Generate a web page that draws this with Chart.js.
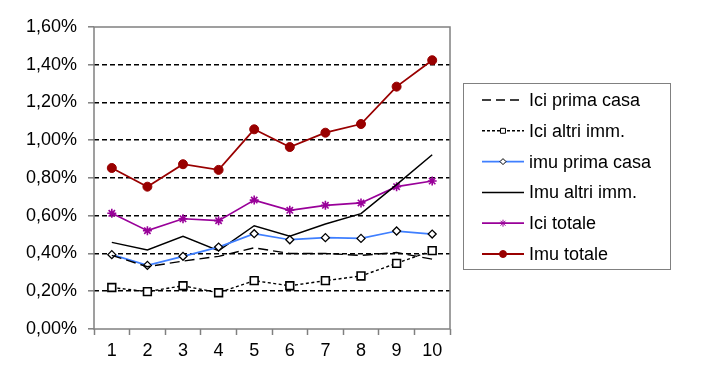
<html lang="en">
<head>
    <meta charset="UTF-8">
    <title>Ici / Imu</title>
    <style>
        body { margin: 0; background: #fff; }
        #wrap { width: 718px; height: 383px; }
    </style>
</head>
<body>
    <div id="wrap"><canvas id="canvas"></canvas></div>
    <script src="https://cdn.jsdelivr.net/npm/chart.js@4/dist/chart.umd.min.js"></script>
    <script>
        // values (percent)
        var categories = ['1', '2', '3', '4', '5', '6', '7', '8', '9', '10'];
        var iciPrimaCasa = [0.39, 0.33, 0.36, 0.385, 0.43, 0.40, 0.40, 0.39, 0.405, 0.37];
        var iciAltriImm = [0.22, 0.198, 0.229, 0.192, 0.256, 0.229, 0.256, 0.281, 0.348, 0.415];
        var imuPrimaCasa = [0.394, 0.337, 0.385, 0.434, 0.505, 0.473, 0.484, 0.48, 0.519, 0.503];
        var imuAltriImm = [0.459, 0.419, 0.491, 0.415, 0.547, 0.491, 0.556, 0.611, 0.765, 0.923];
        var iciTotale = [0.613, 0.521, 0.584, 0.574, 0.683, 0.629, 0.655, 0.668, 0.754, 0.784];
        var imuTotale = [0.853, 0.754, 0.873, 0.843, 1.058, 0.964, 1.04, 1.086, 1.284, 1.424];
        var yTicks = [0, 0.2, 0.4, 0.6, 0.8, 1.0, 1.2, 1.4, 1.6];

        var font = 'Liberation Sans, Arial, sans-serif';

        // plot frame
        var frame = {
            id: 'frame',
            afterDraw: function (chart) {
                var a = chart.chartArea, ctx = chart.ctx;
                ctx.save();
                ctx.strokeStyle = '#808080';
                ctx.lineWidth = 1.5;
                ctx.strokeRect(a.left, a.top, a.right - a.left, a.bottom - a.top);
                ctx.restore();
            }
        };

        // boxed legend on the right
        var boxLegend = {
            id: 'boxLegend',
            afterDraw: function (chart) {
                var ctx = chart.ctx;
                var x0 = 463, y0 = 83, w = 207, h = 186;
                ctx.save();
                ctx.strokeStyle = '#808080';
                ctx.lineWidth = 1;
                ctx.strokeRect(x0 + 0.5, y0 + 0.5, w, h);
                ctx.font = '18px ' + font;
                ctx.textBaseline = 'middle';
                chart.data.datasets.forEach(function (ds, i) {
                    var y = 100 + i * 30.8;
                    ctx.strokeStyle = ds.borderColor;
                    ctx.lineWidth = ds.borderWidth;
                    ctx.setLineDash(ds.legendDash || []);
                    ctx.beginPath();
                    ctx.moveTo(482, y);
                    ctx.lineTo(524, y);
                    ctx.stroke();
                    ctx.setLineDash([]);
                    if (ds.pointRadius > 0) {
                        ctx.fillStyle = ds.pointBackgroundColor;
                        ctx.strokeStyle = ds.pointBorderColor;
                        ctx.lineWidth = 1;
                        Chart.helpers.drawPoint(ctx, {
                            pointStyle: ds.pointStyle,
                            radius: ds.legendRadius,
                            borderWidth: 1
                        }, 503, y);
                    }
                    ctx.fillStyle = '#000';
                    ctx.fillText(ds.label, 529, y + 1);
                });
                ctx.restore();
            }
        };

        new Chart(document.getElementById('canvas'), {
            type: 'line',
            data: {
                labels: categories,
                datasets: [
                    {
                        label: 'Ici prima casa', data: iciPrimaCasa,
                        borderColor: '#000', borderWidth: 1.4, borderDash: [10, 5], legendDash: [9, 5],
                        pointRadius: 0
                    },
                    {
                        label: 'Ici altri imm.', data: iciAltriImm,
                        borderColor: '#000', borderWidth: 1.4, borderDash: [3, 2.5], legendDash: [3, 2],
                        pointStyle: 'rect', pointRadius: 5.5, pointBackgroundColor: '#fff',
                        pointBorderColor: '#000', pointBorderWidth: 1.6, legendRadius: 3.5
                    },
                    {
                        label: 'imu prima casa', data: imuPrimaCasa,
                        borderColor: '#3f7fff', borderWidth: 1.7,
                        pointStyle: 'rectRot', pointRadius: 4, pointBackgroundColor: '#fff',
                        pointBorderColor: '#000', pointBorderWidth: 1.3, legendRadius: 3
                    },
                    {
                        label: 'Imu altri imm.', data: imuAltriImm,
                        borderColor: '#000', borderWidth: 1.5,
                        pointRadius: 0
                    },
                    {
                        label: 'Ici totale', data: iciTotale,
                        borderColor: '#990099', borderWidth: 1.7,
                        pointStyle: 'star', pointRadius: 4.5, pointBackgroundColor: '#990099',
                        pointBorderColor: '#990099', pointBorderWidth: 1.6, legendRadius: 3.5
                    },
                    {
                        label: 'Imu totale', data: imuTotale,
                        borderColor: '#990000', borderWidth: 1.8,
                        pointStyle: 'circle', pointRadius: 4.5, pointBackgroundColor: '#990000',
                        pointBorderColor: '#990000', pointBorderWidth: 1, legendRadius: 3.5
                    }
                ]
            },
            options: {
                responsive: true,
                maintainAspectRatio: false,
                animation: false,
                events: [],
                elements: { line: { tension: 0 } },
                layout: { padding: { top: 27, right: 268, bottom: 0, left: 0 } },
                plugins: { legend: { display: false }, tooltip: { enabled: false } },
                scales: {
                    x: {
                        offset: true,
                        grid: {
                            offset: true, drawOnChartArea: false, drawTicks: true,
                            tickLength: 6, tickColor: '#808080', tickWidth: 1.5
                        },
                        border: { display: false },
                        ticks: { color: '#000', font: { family: font, size: 18 }, padding: 5, maxRotation: 0 },
                        afterFit: function (s) { s.height = 54; }
                    },
                    y: {
                        min: 0, max: 1.6,
                        afterBuildTicks: function (s) { s.ticks = yTicks.map(function (v) { return { value: v }; }); },
                        grid: {
                            color: function (c) {
                                var v = c.tick ? c.tick.value : 0;
                                return (v < 0.01 || v > 1.59) ? 'rgba(0,0,0,0)' : '#000';
                            },
                            lineWidth: 1.6,
                            drawTicks: true, tickLength: 6, tickColor: '#808080', tickWidth: 1.5,
                            tickBorderDash: []
                        },
                        border: { display: false, dash: [5, 3] },
                        ticks: {
                            color: '#000', padding: 11, font: { family: font, size: 18 },
                            callback: function (v) { return v.toFixed(2).replace('.', ',') + '%'; }
                        },
                        afterFit: function (s) { s.width = 94; }
                    }
                }
            },
            plugins: [frame, boxLegend]
        });
    </script>
</body>
</html>
